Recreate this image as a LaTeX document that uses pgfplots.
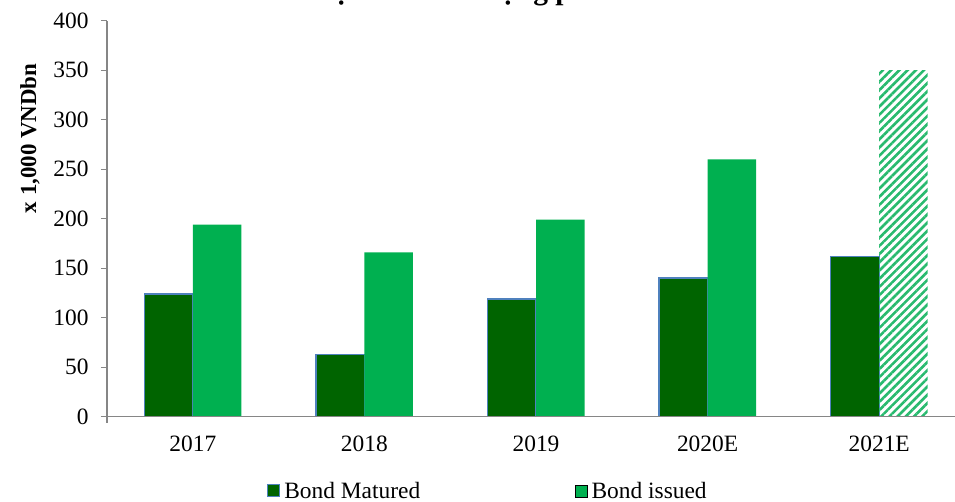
\documentclass[border=0pt]{standalone}
\usepackage{fontspec}
\setmainfont{Liberation Serif}
\usepackage{pgfplots}
\pgfplotsset{compat=1.18}
\usetikzlibrary{patterns.meta}
\definecolor{dkg}{RGB}{0,100,0}
\definecolor{ltg}{RGB}{0,176,80}
\definecolor{bordb}{RGB}{79,129,189}
\definecolor{axg}{RGB}{134,134,134}
\definecolor{hatchg}{RGB}{40,186,110}
\begin{document}
\begin{tikzpicture}
\begin{axis}[name=ax, scale only axis, width=858bp, height=396bp,
  xmin=-0.5, xmax=4.5, ymin=0, ymax=400,
  ybar=0pt, bar width=48.5bp,
  legend image code/.code={\draw[#1] (0bp,-6bp) rectangle (12bp,6bp);},
  ytick={0,50,...,400}, xtick={0,1,2,3,4},
  xticklabels={2017,2018,2019,2020E,2021E},
  axis x line*=bottom, axis y line*=left,
  axis line style={axg, line width=1.3bp, -},
  y axis line style={shorten <=-6bp},
  every tick/.style={axg, line width=1.3bp},
  xtick style={draw=none},
  tick align=outside, major tick length=6bp,
  axis on top,
  /pgf/number format/assume math mode=true,
  tick label style={font=\fontsize{23.5}{27}\selectfont},
  yticklabel style={xshift=-9bp},
  xticklabel style={yshift=-10bp},
  ylabel={x 1,000 VNDbn},
  ylabel style={at={(axis description cs:-0.0897,0.703)}, anchor=center, font=\bfseries\fontsize{23}{27}\selectfont},
  title={Dự báo khối lượng phát hành},
  title style={at={(axis description cs:0.4557,1.0396)}, anchor=base, font=\bfseries\fontsize{29.6}{34}\selectfont},
  legend style={at={(axis description cs:0.1865,-0.187)}, anchor=west, draw=none, fill=none, inner sep=0pt, outer sep=0pt,
    legend columns=2, font=\fontsize{23.5}{27}\selectfont,
    /tikz/every odd column/.append style={column sep=2bp},
    /tikz/every even column/.append style={column sep=153bp}},
  legend cell align=left,
]
\addplot[bar shift=-24.25bp, fill=dkg, draw=bordb, line width=1.3bp] coordinates {(0,124) (1,63) (2,119) (3,140) (4,162)};
\addlegendentry{Bond Matured}
\addplot[bar shift=24.25bp, fill=ltg, draw=none] coordinates {(0,194) (1,166) (2,199) (3,260)};
\addlegendentry{Bond issued}
\addplot[bar shift=24.25bp, draw=none, pattern={Lines[angle=45,distance=5.8bp,line width=2.6bp]}, pattern color=hatchg, forget plot] coordinates {(4,350)};
\end{axis}
\pgfresetboundingbox
\path[use as bounding box] (ax.south west) ++(-107bp,-85.3bp) rectangle ++(955bp,502bp);
\end{tikzpicture}
\end{document}
